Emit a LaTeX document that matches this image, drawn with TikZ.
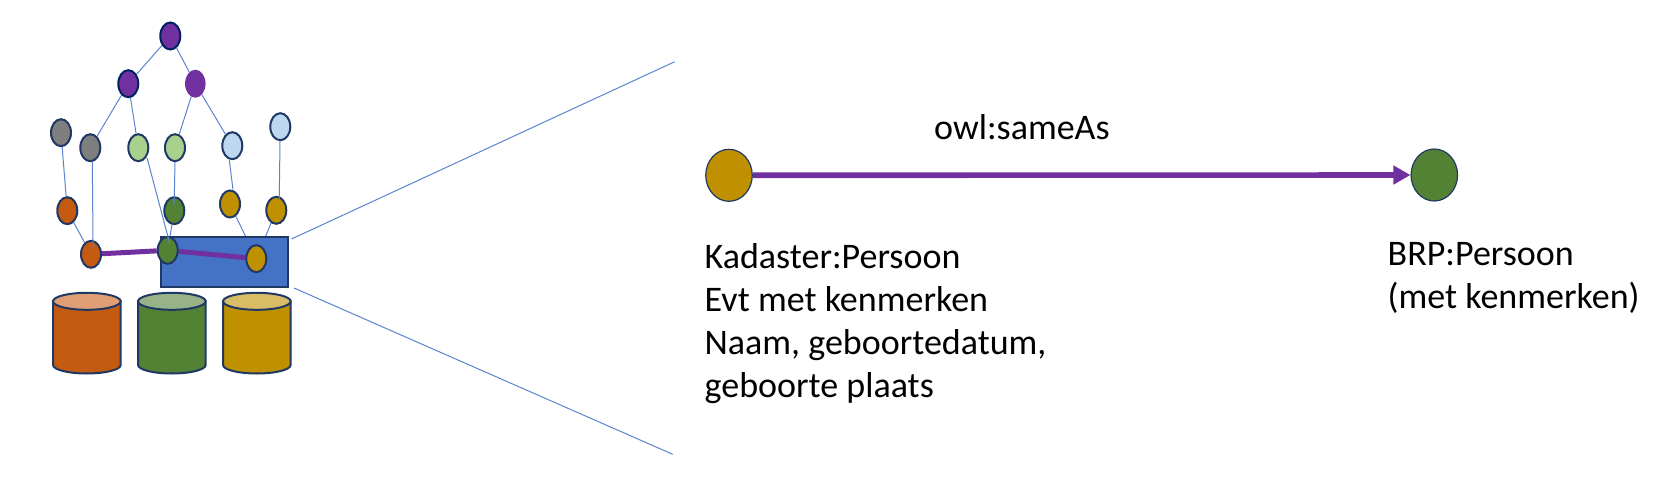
\documentclass[tikz,border=0pt]{standalone}
\usepackage{fontspec}
\setmainfont{Carlito}
\usetikzlibrary{shapes.geometric,arrows.meta,backgrounds}
\definecolor{nborder}{HTML}{1F3864}
\definecolor{ntop}{HTML}{002060}
\definecolor{cpurple}{HTML}{7030A0}
\definecolor{corange}{HTML}{C55A11}
\definecolor{cgreen}{HTML}{548235}
\definecolor{cgold}{HTML}{BF9000}
\definecolor{cblue}{HTML}{4472C4}
\definecolor{cline}{HTML}{5B84D0}
\definecolor{clgreen}{HTML}{A9D18E}
\definecolor{clblue}{HTML}{BDD7EE}
\definecolor{cgray}{HTML}{7F7F7F}
\definecolor{ctoporange}{HTML}{DF9E74}
\definecolor{ctopgreen}{HTML}{98B388}
\definecolor{ctopgold}{HTML}{D8BC66}
\pgfdeclarelayer{under}
\pgfdeclarelayer{plate}
\pgfdeclarelayer{wires}
\pgfsetlayers{under,plate,wires,main}
\tikzset{
  dot/.style={ellipse,draw=nborder,line width=2pt,minimum width=20pt,minimum height=27pt,inner sep=0pt,fill=#1},
  bigdot/.style={ellipse,draw=nborder,line width=1.2pt,minimum width=46.5pt,minimum height=52pt,inner sep=0pt,fill=#1},
  wire/.style={draw=cline,line width=1pt},
  thick link/.style={draw=cpurple,line width=5pt},
  label text/.style={inner sep=0pt,align=left,font=\fontsize{36}{43}\selectfont},
  drum/.style={draw=nborder,line width=2pt}
}
\newcommand{\drumshape}[3]{%
  \path[drum,fill=#2] (#1-33.8,301.3) -- (#1-33.8,365) arc[start angle=180,end angle=0,x radius=33.8,y radius=8.5] -- (#1+33.8,301.3) -- cycle;
  \path[drum,fill=#3] (#1,301.3) ellipse[x radius=33.8,y radius=8.5];
}
\begin{document}
\begin{tikzpicture}[x=1pt,y=-1pt]
\useasboundingbox (0,0) rectangle (1668,495);
% graph nodes
\node[dot=cpurple,draw=ntop] (top) at (170.3,36) {};
\node[dot=cpurple,draw=ntop] (midl) at (128.3,83.7) {};
\node[ellipse,fill=cpurple,minimum width=20.5pt,minimum height=28pt,inner sep=0pt] (midr) at (195.3,83.7) {};
\node[dot=cgray] (gray1) at (61,132.7) {};
\node[dot=cgray] (gray2) at (90.3,147.7) {};
\node[dot=clgreen] (lg1) at (138.3,147.7) {};
\node[dot=clgreen] (lg2) at (175,147.7) {};
\node[dot=clblue] (lb1) at (232.3,145.7) {};
\node[dot=clblue] (lb2) at (280.3,126.7) {};
\node[dot=corange] (or1) at (67.3,210.7) {};
\node[dot=corange] (or2) at (91,254.3) {};
\node[dot=cgreen] (dg1) at (174.3,210.7) {};
\node[dot=cgreen] (dg2) at (167.7,250.3) {};
\node[dot=cgold] (gd1) at (230,204) {};
\node[dot=cgold] (gd2) at (276.3,210.3) {};
\node[dot=cgold] (gd3) at (256.3,258.7) {};
% plate
\begin{pgfonlayer}{plate}
\node[draw=nborder,fill=cblue,line width=2pt,inner sep=0pt,minimum width=127pt,minimum height=50pt] (plate) at (224.5,262) {};
\end{pgfonlayer}
% edges
\begin{pgfonlayer}{under}
\draw[wire] (gd1) -- (gd3);
\draw[wire] (gd2) -- (gd3);
\end{pgfonlayer}
\begin{pgfonlayer}{wires}
\draw[wire] (top) -- (midl);
\draw[wire] (top) -- (midr);
\draw[wire] (midl) -- (gray2);
\draw[wire] (midl) -- (lg1);
\draw[wire] (midr) -- (lg2);
\draw[wire] (midr) -- (lb1);
\draw[wire] (gray1) -- (or1);
\draw[wire] (or1) -- (or2);
\draw[wire] (dg1) -- (dg2);
\draw[thick link] (or2) -- (dg2);
\draw[thick link] (dg2) -- (gd3);
\end{pgfonlayer}
\draw[wire,shorten >=-8pt] ([xshift=2pt]gray2.south) -- ([xshift=2pt]or2.north);
\draw[wire,shorten >=-8pt] ([xshift=1pt]lg1.south east) -- (dg2.north);
\draw[wire,shorten >=-8pt] (lg2.south) -- (dg1.north);
\draw[wire] ([xshift=-3pt]lb1.south) -- ([xshift=3pt]gd1.north);
\draw[wire,shorten >=-4pt] ([xshift=-0.3pt]lb2.south) -- ([xshift=3pt]gd2.north);
% drums
\drumshape{86.85}{corange}{ctoporange}
\drumshape{171.85}{cgreen}{ctopgreen}
\drumshape{256.85}{cgold}{ctopgold}
% zoom lines
\coordinate (zu) at (674.7,61.7);
\coordinate (zl) at (672.7,454.3);
\draw[wire] ([xshift=2.5pt,yshift=-3pt]plate.north east) -- (zu);
\draw[wire] ([xshift=5pt]plate.south east) -- (zl);
% enlarged part
\node[bigdot=cgold] (kad) at (729,175.3) {};
\node[bigdot=cgreen] (brp) at (1434.3,175) {};
\draw[draw=cpurple,line width=5.6pt,-{Triangle[length=17pt,width=18pt]}] (kad) -- (brp);
\node[label text,anchor=base west] (same) at (934,139.3) {owl:sameAs};
\node[label text,anchor=north west] (kadtext) at (704.5,243.7) {Kadaster:Persoon\\Evt met kenmerken\\Naam, geboortedatum,\\geboorte plaats};
\node[label text,anchor=north west] (brptext) at (1387.5,242.5) {BRP:Persoon\\(met kenmerken)};
\end{tikzpicture}
\end{document}
